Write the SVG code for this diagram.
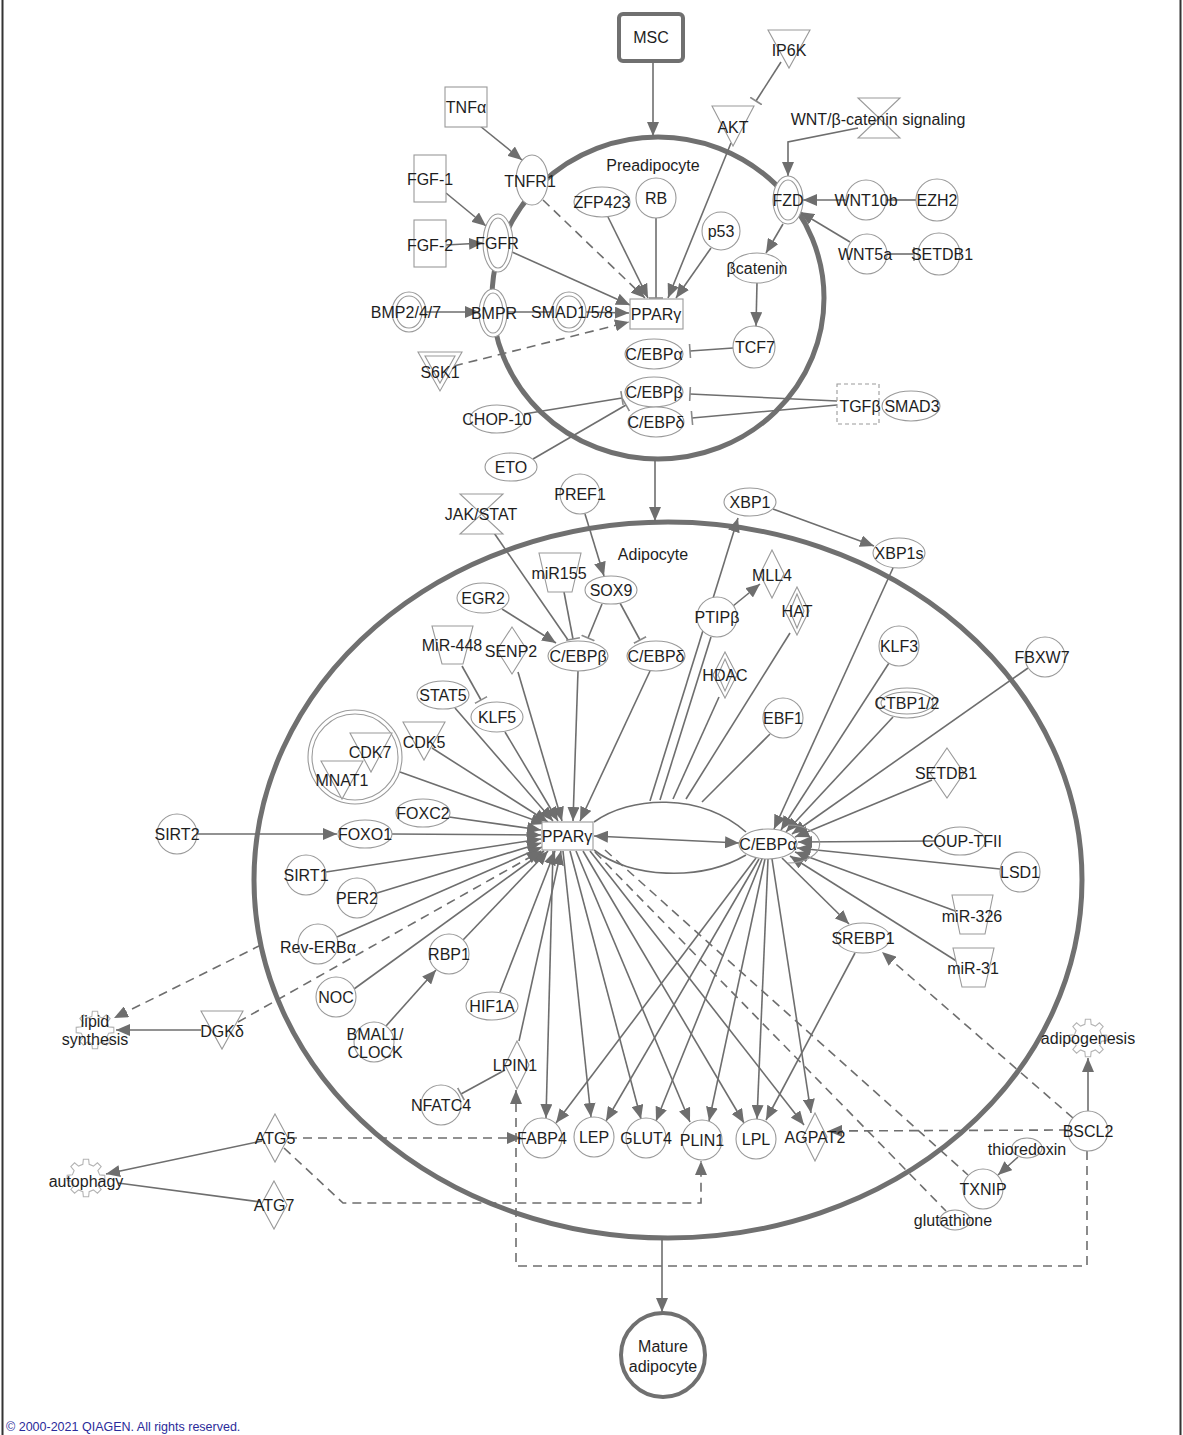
<svg xmlns="http://www.w3.org/2000/svg" xmlns:xlink="http://www.w3.org/1999/xlink" width="1183" height="1435" viewBox="0 0 1183 1435">
<defs>
<style>
.t{font-family:"Liberation Sans",Arial,sans-serif;font-size:16px;fill:#1e1e1e;text-anchor:middle}
.n{fill:#fff;stroke:#9a9a9a;stroke-width:1.1}
.g{fill:#fff;stroke:#b4b4b4;stroke-width:1.1}
.e{fill:none;stroke:#6e6e6e;stroke-width:1.6}
.d{stroke-dasharray:9 6}
.comp{fill:none;stroke:#707070;stroke-width:5}
.ea{marker-end:url(#a)}
.eb{marker-end:url(#b)}
</style>
<marker id="a" viewBox="0 0 14 12" refX="14" refY="6" markerWidth="14" markerHeight="12" markerUnits="userSpaceOnUse" orient="auto"><path d="M0,0L14,6L0,12Z" fill="#6e6e6e"/></marker>
<marker id="a2" viewBox="0 0 14 12" refX="14" refY="6" markerWidth="14" markerHeight="12" markerUnits="userSpaceOnUse" orient="auto-start-reverse"><path d="M0,0L14,6L0,12Z" fill="#6e6e6e"/></marker>
<marker id="b" viewBox="0 0 4 14" refX="2" refY="7" markerWidth="4" markerHeight="14" markerUnits="userSpaceOnUse" orient="auto"><path d="M2,0V14" stroke="#8a8a8a" stroke-width="1.6"/></marker>
<polygon id="gear" points="13.64,-3.15 18.82,-2.64 18.82,2.64 13.64,3.15 11.87,7.42 15.17,11.43 11.43,15.17 7.42,11.87 3.15,13.64 2.64,18.82 -2.64,18.82 -3.15,13.64 -7.42,11.87 -11.43,15.17 -15.17,11.43 -11.87,7.42 -13.64,3.15 -18.82,2.64 -18.82,-2.64 -13.64,-3.15 -11.87,-7.42 -15.17,-11.43 -11.43,-15.17 -7.42,-11.87 -3.15,-13.64 -2.64,-18.82 2.64,-18.82 3.15,-13.64 7.42,-11.87 11.43,-15.17 15.17,-11.43 11.87,-7.42"/>
</defs>
<rect x="0" y="0" width="1183" height="1435" fill="#fff"/>
<line x1="2.5" y1="0" x2="2.5" y2="1435" stroke="#333" stroke-width="2"/>
<line x1="1180.5" y1="0" x2="1180.5" y2="1435" stroke="#333" stroke-width="2"/>

<g id="compartments">
<ellipse cx="658" cy="298" rx="166" ry="161" class="comp"/>
<ellipse cx="668" cy="880" rx="414" ry="358" class="comp"/>
<text class="t" x="653" y="171">Preadipocyte</text>
<text class="t" x="653" y="560">Adipocyte</text>
</g>

<g id="connectors">
<line class="e ea" x1="653" y1="62" x2="653" y2="136"/>
<line class="e eb" x1="781" y1="62" x2="756" y2="101"/>
<line class="e ea" x1="731" y1="143" x2="668" y2="298"/>
<line class="e ea" x1="480" y1="126" x2="522" y2="160"/>
<line class="e d ea" x1="543" y1="200" x2="645" y2="298"/>
<line class="e ea" x1="446" y1="193" x2="486" y2="226"/>
<line class="e ea" x1="446" y1="245" x2="483" y2="243"/>
<line class="e ea" x1="512" y1="252" x2="630" y2="305"/>
<line class="e ea" x1="608" y1="217" x2="648" y2="298"/>
<line class="e eb" x1="656" y1="218" x2="656" y2="298"/>
<line class="e ea" x1="711" y1="248" x2="676" y2="298"/>
<polyline class="e ea" points="858,128 788,142 788,176"/>
<line class="e ea" x1="846" y1="200" x2="803" y2="200"/>
<line class="e" x1="916" y1="200" x2="886" y2="200"/>
<line class="e ea" x1="850" y1="242" x2="800" y2="212"/>
<line class="e eb" x1="887" y1="254" x2="914" y2="254"/>
<line class="e ea" x1="783" y1="224" x2="766" y2="253"/>
<line class="e ea" x1="757" y1="283" x2="756" y2="326"/>
<line class="e eb" x1="733" y1="348" x2="690" y2="351"/>
<line class="e ea" x1="426" y1="312" x2="479" y2="312"/>
<line class="e" x1="507" y1="312" x2="552" y2="312"/>
<line class="e ea" x1="586" y1="312" x2="629" y2="313"/>
<line class="e d ea" x1="454" y1="366" x2="629" y2="322"/>
<line class="e eb" x1="837" y1="401" x2="690" y2="394"/>
<line class="e eb" x1="837" y1="405" x2="692" y2="418"/>
<line class="e eb" x1="524" y1="414" x2="622" y2="398"/>
<line class="e eb" x1="533" y1="459" x2="626" y2="405"/>
<line class="e ea" x1="655" y1="460" x2="655" y2="521"/>
<line class="e" x1="492" y1="530" x2="568" y2="640"/>
<line class="e ea" x1="585" y1="514" x2="604" y2="576"/>
<line class="e eb" x1="564" y1="592" x2="573" y2="639"/>
<line class="e eb" x1="602" y1="604" x2="588" y2="638"/>
<line class="e eb" x1="620" y1="603" x2="640" y2="640"/>
<line class="e ea" x1="502" y1="609" x2="556" y2="643"/>
<line class="e ea" x1="773" y1="509" x2="874" y2="546"/>
<line class="e ea" x1="733" y1="606" x2="760" y2="584"/>
<line class="e eb" x1="462" y1="666" x2="481" y2="700"/>
<line class="e ea" x1="197" y1="834" x2="337" y2="834"/>
<line class="e ea" x1="386" y1="1026" x2="436" y2="970"/>
<line class="e eb" x1="505" y1="1070" x2="461" y2="1094"/>
<line class="e ea" x1="578" y1="671" x2="573" y2="821"/>
<line class="e ea" x1="650" y1="671" x2="580" y2="821"/>
<line class="e ea" x1="518" y1="672" x2="562" y2="821"/>
<line class="e ea" x1="505" y1="732" x2="558" y2="821"/>
<line class="e ea" x1="455" y1="708" x2="553" y2="821"/>
<line class="e ea" x1="432" y1="748" x2="548" y2="822"/>
<line class="e ea" x1="400" y1="772" x2="545" y2="824"/>
<line class="e ea" x1="449" y1="817" x2="541" y2="830"/>
<line class="e ea" x1="392" y1="834" x2="541" y2="835"/>
<line class="e ea" x1="326" y1="872" x2="541" y2="839"/>
<line class="e ea" x1="377" y1="893" x2="541" y2="843"/>
<line class="e ea" x1="337" y1="937" x2="542" y2="847"/>
<line class="e ea" x1="354" y1="989" x2="544" y2="851"/>
<line class="e ea" x1="463" y1="940" x2="548" y2="851"/>
<line class="e ea" x1="500" y1="992" x2="555" y2="851"/>
<line class="e ea" x1="519" y1="1041" x2="561" y2="851"/>
<line class="e" x1="594" y1="836" x2="739" y2="843" marker-start="url(#a2)" marker-end="url(#a2)"/>
<path class="e" d="M594,822 C630,796 700,792 746,832"/>
<path class="e" d="M594,850 C630,878 700,882 746,855"/>
<line class="e ea" x1="650" y1="801" x2="738" y2="518"/>
<line class="e" x1="711" y1="637" x2="660" y2="800"/>
<line class="e" x1="719" y1="697" x2="673" y2="799"/>
<line class="e" x1="790" y1="633" x2="686" y2="799"/>
<line class="e" x1="770" y1="734" x2="702" y2="802"/>
<line class="e ea" x1="893" y1="568" x2="774" y2="829"/>
<line class="e ea" x1="889" y1="663" x2="781" y2="830"/>
<line class="e ea" x1="893" y1="717" x2="786" y2="832"/>
<line class="e ea" x1="1028" y1="668" x2="792" y2="834"/>
<line class="e ea" x1="932" y1="780" x2="795" y2="837"/>
<line class="e ea" x1="936" y1="841" x2="798" y2="842"/>
<line class="e ea" x1="1000" y1="869" x2="797" y2="848"/>
<line class="e ea" x1="958" y1="912" x2="795" y2="852"/>
<line class="e ea" x1="958" y1="962" x2="790" y2="856"/>
<line class="e ea" x1="782" y1="858" x2="849" y2="924"/>
<line class="e ea" x1="855" y1="953" x2="766" y2="1120"/>
<line class="e ea" x1="553" y1="851" x2="546" y2="1118"/>
<line class="e ea" x1="563" y1="851" x2="591" y2="1117"/>
<line class="e ea" x1="570" y1="851" x2="641" y2="1119"/>
<line class="e ea" x1="576" y1="851" x2="690" y2="1122"/>
<line class="e ea" x1="583" y1="851" x2="744" y2="1123"/>
<line class="e ea" x1="590" y1="851" x2="804" y2="1125"/>
<line class="e ea" x1="756" y1="858" x2="556" y2="1123"/>
<line class="e ea" x1="759" y1="859" x2="606" y2="1121"/>
<line class="e ea" x1="762" y1="859" x2="656" y2="1121"/>
<line class="e ea" x1="765" y1="859" x2="709" y2="1121"/>
<line class="e ea" x1="768" y1="859" x2="757" y2="1119"/>
<line class="e ea" x1="772" y1="859" x2="811" y2="1113"/>
<line class="e ea" x1="201" y1="1030" x2="116" y2="1030"/>
<line class="e d ea" x1="261" y1="945" x2="114" y2="1018"/>
<line class="e d ea" x1="238" y1="1022" x2="541" y2="851"/>
<line class="e ea" x1="262" y1="1141" x2="106" y2="1174"/>
<line class="e" x1="261" y1="1202" x2="118" y2="1183"/>
<line class="e d ea" x1="288" y1="1138" x2="521" y2="1138"/>
<polyline class="e d ea" points="284,1148 343,1203 701,1203 701,1161"/>
<polyline class="e d ea" points="1087,1151 1087,1266 516,1266 516,1090"/>
<line class="e d ea" x1="1068" y1="1130" x2="828" y2="1131"/>
<line class="e d ea" x1="1073" y1="1118" x2="882" y2="952"/>
<line class="e ea" x1="1088" y1="1111" x2="1088" y2="1058"/>
<line class="e ea" x1="1018" y1="1157" x2="998" y2="1175"/>
<line class="e d" x1="605" y1="850" x2="968" y2="1175"/>
<line class="e d" x1="595" y1="852" x2="946" y2="1211"/>
<line class="e ea" x1="662" y1="1238" x2="662" y2="1312"/>
</g>

<g id="MSC"><rect x="619" y="14" width="64" height="47" rx="4" fill="#fff" stroke="#707070" stroke-width="4"/><text class="t" x="651" y="43">MSC</text></g>
<g id="IP6K"><path class="n" d="M768,30H810L789,68Z"/><text class="t" x="789" y="56">IP6K</text></g>
<g id="AKT"><path class="n" d="M712,106H754L733,146Z"/><text class="t" x="733" y="133">AKT</text></g>
<g id="WNT-signaling"><path class="n" d="M858,98H900L879,118ZM858,138H900L879,118Z"/><text class="t" x="878" y="125">WNT/β-catenin signaling</text></g>
<g id="TNFa"><rect class="n" x="445" y="87" width="42" height="40"/><text class="t" x="466" y="113">TNFα</text></g>
<g id="TNFR1"><ellipse class="n" cx="532" cy="180" rx="16" ry="25"/><text class="t" x="530" y="187">TNFR1</text></g>
<g id="FGF-1"><rect class="n" x="414" y="155" width="32" height="47"/><text class="t" x="430" y="185">FGF-1</text></g>
<g id="FGF-2"><rect class="n" x="414" y="220" width="32" height="47"/><text class="t" x="430" y="251">FGF-2</text></g>
<g id="FGFR"><ellipse class="n" cx="498" cy="243" rx="15" ry="29"/><ellipse class="n" cx="498" cy="243" rx="11" ry="25"/><text class="t" x="497" y="249">FGFR</text></g>
<g id="ZFP423"><ellipse class="n" cx="602" cy="202" rx="28" ry="15"/><text class="t" x="602" y="208">ZFP423</text></g>
<g id="RB"><circle class="n" cx="656" cy="198" r="20"/><text class="t" x="656" y="204">RB</text></g>
<g id="p53"><circle class="n" cx="721" cy="231" r="19"/><text class="t" x="721" y="237">p53</text></g>
<g id="FZD"><ellipse class="n" cx="788" cy="200" rx="15" ry="24"/><ellipse class="n" cx="788" cy="200" rx="11" ry="20"/><text class="t" x="788" y="206">FZD</text></g>
<g id="WNT10b"><circle class="n" cx="866" cy="200" r="20"/><text class="t" x="866" y="206">WNT10b</text></g>
<g id="EZH2"><circle class="n" cx="937" cy="200" r="21"/><text class="t" x="937" y="206">EZH2</text></g>
<g id="WNT5a"><circle class="n" cx="867" cy="254" r="20"/><text class="t" x="865" y="260">WNT5a</text></g>
<g id="SETDB1-pre"><circle class="n" cx="939" cy="254" r="21"/><text class="t" x="942" y="260">SETDB1</text></g>
<g id="bcatenin"><ellipse class="n" cx="757" cy="268" rx="26" ry="15"/><text class="t" x="757" y="274">βcatenin</text></g>
<g id="TCF7"><circle class="n" cx="754" cy="347" r="21"/><text class="t" x="755" y="353">TCF7</text></g>
<g id="PPARg-pre"><rect class="n" x="630" y="299" width="53" height="30"/><text class="t" x="656" y="320">PPARγ</text></g>
<g id="BMP247"><ellipse class="n" cx="409" cy="312" rx="17" ry="20"/><ellipse class="n" cx="409" cy="312" rx="13" ry="16"/><text class="t" x="406" y="318">BMP2/4/7</text></g>
<g id="BMPR"><ellipse class="n" cx="493" cy="313" rx="14" ry="24"/><ellipse class="n" cx="493" cy="313" rx="10" ry="20"/><text class="t" x="494" y="319">BMPR</text></g>
<g id="SMAD158"><ellipse class="n" cx="569" cy="312" rx="17" ry="20"/><ellipse class="n" cx="569" cy="312" rx="13" ry="16"/><text class="t" x="572" y="318">SMAD1/5/8</text></g>
<g id="S6K1"><path class="n" d="M418,352H462L440,391Z"/><path class="n" d="M425,356H455L440,383Z"/><text class="t" x="440" y="378">S6K1</text></g>
<g id="CEBPa-pre"><ellipse class="n" cx="654" cy="354" rx="29" ry="15"/><text class="t" x="654" y="360">C/EBPα</text></g>
<g id="CEBPb-pre"><ellipse class="n" cx="654" cy="392" rx="29" ry="15"/><text class="t" x="654" y="398">C/EBPβ</text></g>
<g id="CEBPd-pre"><ellipse class="n" cx="656" cy="422" rx="28" ry="15"/><text class="t" x="656" y="428">C/EBPδ</text></g>
<g id="CHOP-10"><ellipse class="n" cx="497" cy="419" rx="27" ry="14"/><text class="t" x="497" y="425">CHOP-10</text></g>
<g id="ETO"><ellipse class="n" cx="511" cy="467" rx="26" ry="14"/><text class="t" x="511" y="473">ETO</text></g>
<g id="TGFb"><rect x="837" y="384" width="42" height="40" fill="#fff" stroke="#9a9a9a" stroke-width="1.1" stroke-dasharray="4 3"/><text class="t" x="860" y="412">TGFβ</text></g>
<g id="SMAD3"><ellipse class="n" cx="911" cy="406" rx="29" ry="15"/><text class="t" x="912" y="412">SMAD3</text></g>

<g id="JAK-STAT"><path class="n" d="M460,494H503L481.5,514ZM460,534H503L481.5,514Z"/><text class="t" x="481" y="520">JAK/STAT</text></g>
<g id="PREF1"><circle class="n" cx="580" cy="494" r="20"/><text class="t" x="580" y="500">PREF1</text></g>
<g id="XBP1"><ellipse class="n" cx="750" cy="502" rx="26" ry="14"/><text class="t" x="750" y="508">XBP1</text></g>
<g id="XBP1s"><ellipse class="n" cx="899" cy="553" rx="26" ry="15"/><text class="t" x="899" y="559">XBP1s</text></g>
<g id="miR155"><path class="n" d="M539,553H581L572,592H548Z"/><text class="t" x="559" y="579">miR155</text></g>
<g id="SOX9"><ellipse class="n" cx="611" cy="590" rx="26" ry="14"/><text class="t" x="611" y="596">SOX9</text></g>
<g id="EGR2"><ellipse class="n" cx="483" cy="598" rx="26" ry="15"/><text class="t" x="483" y="604">EGR2</text></g>
<g id="CEBPb"><ellipse class="n" cx="578" cy="656" rx="30" ry="15"/><text class="t" x="578" y="662">C/EBPβ</text></g>
<g id="CEBPd"><ellipse class="n" cx="656" cy="656" rx="29" ry="15"/><text class="t" x="656" y="662">C/EBPδ</text></g>
<g id="MLL4"><path class="n" d="M772,550L784,574L772,598L760,574Z"/><text class="t" x="772" y="581">MLL4</text></g>
<g id="PTIPb"><circle class="n" cx="717" cy="617" r="20"/><text class="t" x="717" y="623">PTIPβ</text></g>
<g id="HAT"><path class="n" d="M797,587L809,611L797,635L785,611Z"/><path class="n" d="M797,594L804,611L797,628L790,611Z"/><text class="t" x="797" y="617">HAT</text></g>
<g id="HDAC"><path class="n" d="M725,652L737,675L725,698L713,675Z"/><path class="n" d="M725,659L732,675L725,691L718,675Z"/><text class="t" x="725" y="681">HDAC</text></g>
<g id="EBF1"><circle class="n" cx="783" cy="718" r="20"/><text class="t" x="783" y="724">EBF1</text></g>
<g id="KLF3"><circle class="n" cx="899" cy="646" r="20"/><text class="t" x="899" y="652">KLF3</text></g>
<g id="CTBP12"><ellipse class="n" cx="907" cy="703" rx="30" ry="15"/><ellipse class="n" cx="907" cy="703" rx="26" ry="11"/><text class="t" x="907" y="709">CTBP1/2</text></g>
<g id="FBXW7"><circle class="n" cx="1045" cy="657" r="20"/><text class="t" x="1042" y="663">FBXW7</text></g>
<g id="SETDB1"><path class="n" d="M947,748L964,773L947,798L930,773Z"/><text class="t" x="946" y="779">SETDB1</text></g>
<g id="MiR-448"><path class="n" d="M432,626H473L463,664H442Z"/><text class="t" x="452" y="651">MiR-448</text></g>
<g id="SENP2"><path class="n" d="M512,627L527,650L512,674L497,650Z"/><text class="t" x="511" y="657">SENP2</text></g>
<g id="STAT5"><ellipse class="n" cx="443" cy="695" rx="26" ry="14"/><text class="t" x="443" y="701">STAT5</text></g>
<g id="KLF5"><ellipse class="n" cx="497" cy="717" rx="26" ry="15"/><text class="t" x="497" y="723">KLF5</text></g>
<g id="CDK5"><path class="n" d="M403,722H445L424,760Z"/><text class="t" x="424" y="748">CDK5</text></g>
<g id="CDK7-MNAT1"><circle class="n" cx="355" cy="757" r="47"/><circle class="n" cx="355" cy="757" r="43"/><path class="n" d="M350,733H392L371,772Z"/><path class="n" d="M321,761H363L342,799Z"/><text class="t" x="370" y="758">CDK7</text><text class="t" x="342" y="786">MNAT1</text></g>
<g id="FOXC2"><ellipse class="n" cx="423" cy="813" rx="27" ry="14"/><text class="t" x="423" y="819">FOXC2</text></g>
<g id="FOXO1"><ellipse class="n" cx="365" cy="834" rx="27" ry="14"/><text class="t" x="365" y="840">FOXO1</text></g>
<g id="SIRT2"><circle class="n" cx="177" cy="834" r="20"/><text class="t" x="177" y="840">SIRT2</text></g>
<g id="SIRT1"><circle class="n" cx="306" cy="875" r="20"/><text class="t" x="306" y="881">SIRT1</text></g>
<g id="PER2"><circle class="n" cx="357" cy="898" r="20"/><text class="t" x="357" y="904">PER2</text></g>
<g id="Rev-ERBa"><circle class="n" cx="318" cy="944" r="20"/><text class="t" x="318" y="953">Rev-ERBα</text></g>
<g id="RBP1"><circle class="n" cx="449" cy="954" r="20"/><text class="t" x="449" y="960">RBP1</text></g>
<g id="NOC"><circle class="n" cx="336" cy="997" r="20"/><text class="t" x="336" y="1003">NOC</text></g>
<g id="HIF1A"><ellipse class="n" cx="492" cy="1006" rx="26" ry="14"/><text class="t" x="492" y="1012">HIF1A</text></g>
<g id="BMAL1-CLOCK"><circle class="n" cx="374" cy="1042" r="20"/><text class="t" x="375" y="1040">BMAL1/</text><text class="t" x="375" y="1058">CLOCK</text></g>
<g id="PPARg"><rect class="n" x="542" y="822" width="51" height="28"/><text class="t" x="567" y="842">PPARγ</text></g>
<g id="CEBPa"><path d="M788,825 A30,18 0 0 1 788,863" fill="none" stroke="#9a9a9a" stroke-width="1.1"/><ellipse class="n" cx="768" cy="844" rx="29" ry="15"/><text class="t" x="768" y="850">C/EBPα</text></g>
<g id="COUP-TFII"><ellipse class="n" cx="960" cy="841" rx="25" ry="14"/><text class="t" x="962" y="847">COUP-TFII</text></g>
<g id="LSD1"><circle class="n" cx="1020" cy="872" r="20"/><text class="t" x="1020" y="878">LSD1</text></g>
<g id="miR-326"><path class="n" d="M952,895H993L985,934H960Z"/><text class="t" x="972" y="922">miR-326</text></g>
<g id="miR-31"><path class="n" d="M953,948H994L985,987H962Z"/><text class="t" x="973" y="974">miR-31</text></g>
<g id="SREBP1"><ellipse class="n" cx="863" cy="938" rx="27" ry="15"/><text class="t" x="863" y="944">SREBP1</text></g>
<g id="LPIN1"><path class="n" d="M517,1041L529,1065L517,1089L505,1065Z"/><text class="t" x="515" y="1071">LPIN1</text></g>
<g id="NFATC4"><circle class="n" cx="441" cy="1105" r="20"/><text class="t" x="441" y="1111">NFATC4</text></g>
<g id="FABP4"><circle class="n" cx="542" cy="1138" r="20"/><text class="t" x="542" y="1144">FABP4</text></g>
<g id="LEP"><circle class="n" cx="594" cy="1137" r="20"/><text class="t" x="594" y="1143">LEP</text></g>
<g id="GLUT4"><circle class="n" cx="646" cy="1138" r="20"/><text class="t" x="646" y="1144">GLUT4</text></g>
<g id="PLIN1"><circle class="n" cx="702" cy="1140" r="20"/><text class="t" x="702" y="1146">PLIN1</text></g>
<g id="LPL"><circle class="n" cx="756" cy="1139" r="20"/><text class="t" x="756" y="1145">LPL</text></g>
<g id="AGPAT2"><path class="n" d="M815,1113L827,1137L815,1161L803,1137Z"/><text class="t" x="815" y="1143">AGPAT2</text></g>

<g id="lipid-synthesis"><use xlink:href="#gear" href="#gear" class="g" transform="translate(95,1030)"/><text class="t" x="95" y="1027">lipid</text><text class="t" x="95" y="1045">synthesis</text></g>
<g id="DGKd"><path class="n" d="M201,1011H243L222,1049Z"/><text class="t" x="222" y="1037">DGKδ</text></g>
<g id="ATG5"><path class="n" d="M275,1114L288,1138L275,1162L262,1138Z"/><text class="t" x="275" y="1144">ATG5</text></g>
<g id="ATG7"><path class="n" d="M274,1181L287,1205L274,1229L261,1205Z"/><text class="t" x="274" y="1211">ATG7</text></g>
<g id="autophagy"><use xlink:href="#gear" href="#gear" class="g" transform="translate(86,1178)"/><text class="t" x="86" y="1187">autophagy</text></g>
<g id="adipogenesis"><use xlink:href="#gear" href="#gear" class="g" transform="translate(1088,1038)"/><text class="t" x="1088" y="1044">adipogenesis</text></g>
<g id="BSCL2"><circle class="n" cx="1088" cy="1131" r="20"/><text class="t" x="1088" y="1137">BSCL2</text></g>
<g id="thioredoxin"><ellipse class="n" cx="1027" cy="1148" rx="15" ry="10"/><text class="t" x="1027" y="1155">thioredoxin</text></g>
<g id="TXNIP"><circle class="n" cx="983" cy="1189" r="20"/><text class="t" x="983" y="1195">TXNIP</text></g>
<g id="glutathione"><ellipse class="n" cx="955" cy="1220" rx="15" ry="10"/><text class="t" x="953" y="1226">glutathione</text></g>
<g id="Mature-adipocyte"><circle cx="663" cy="1355" r="42" fill="#fff" stroke="#707070" stroke-width="4"/><text class="t" x="663" y="1352">Mature</text><text class="t" x="663" y="1372">adipocyte</text></g>

<text x="6" y="1431" font-family="Liberation Sans, Arial, sans-serif" font-size="12.5" fill="#2b2b9a">© 2000-2021 QIAGEN. All rights reserved.</text>
</svg>
